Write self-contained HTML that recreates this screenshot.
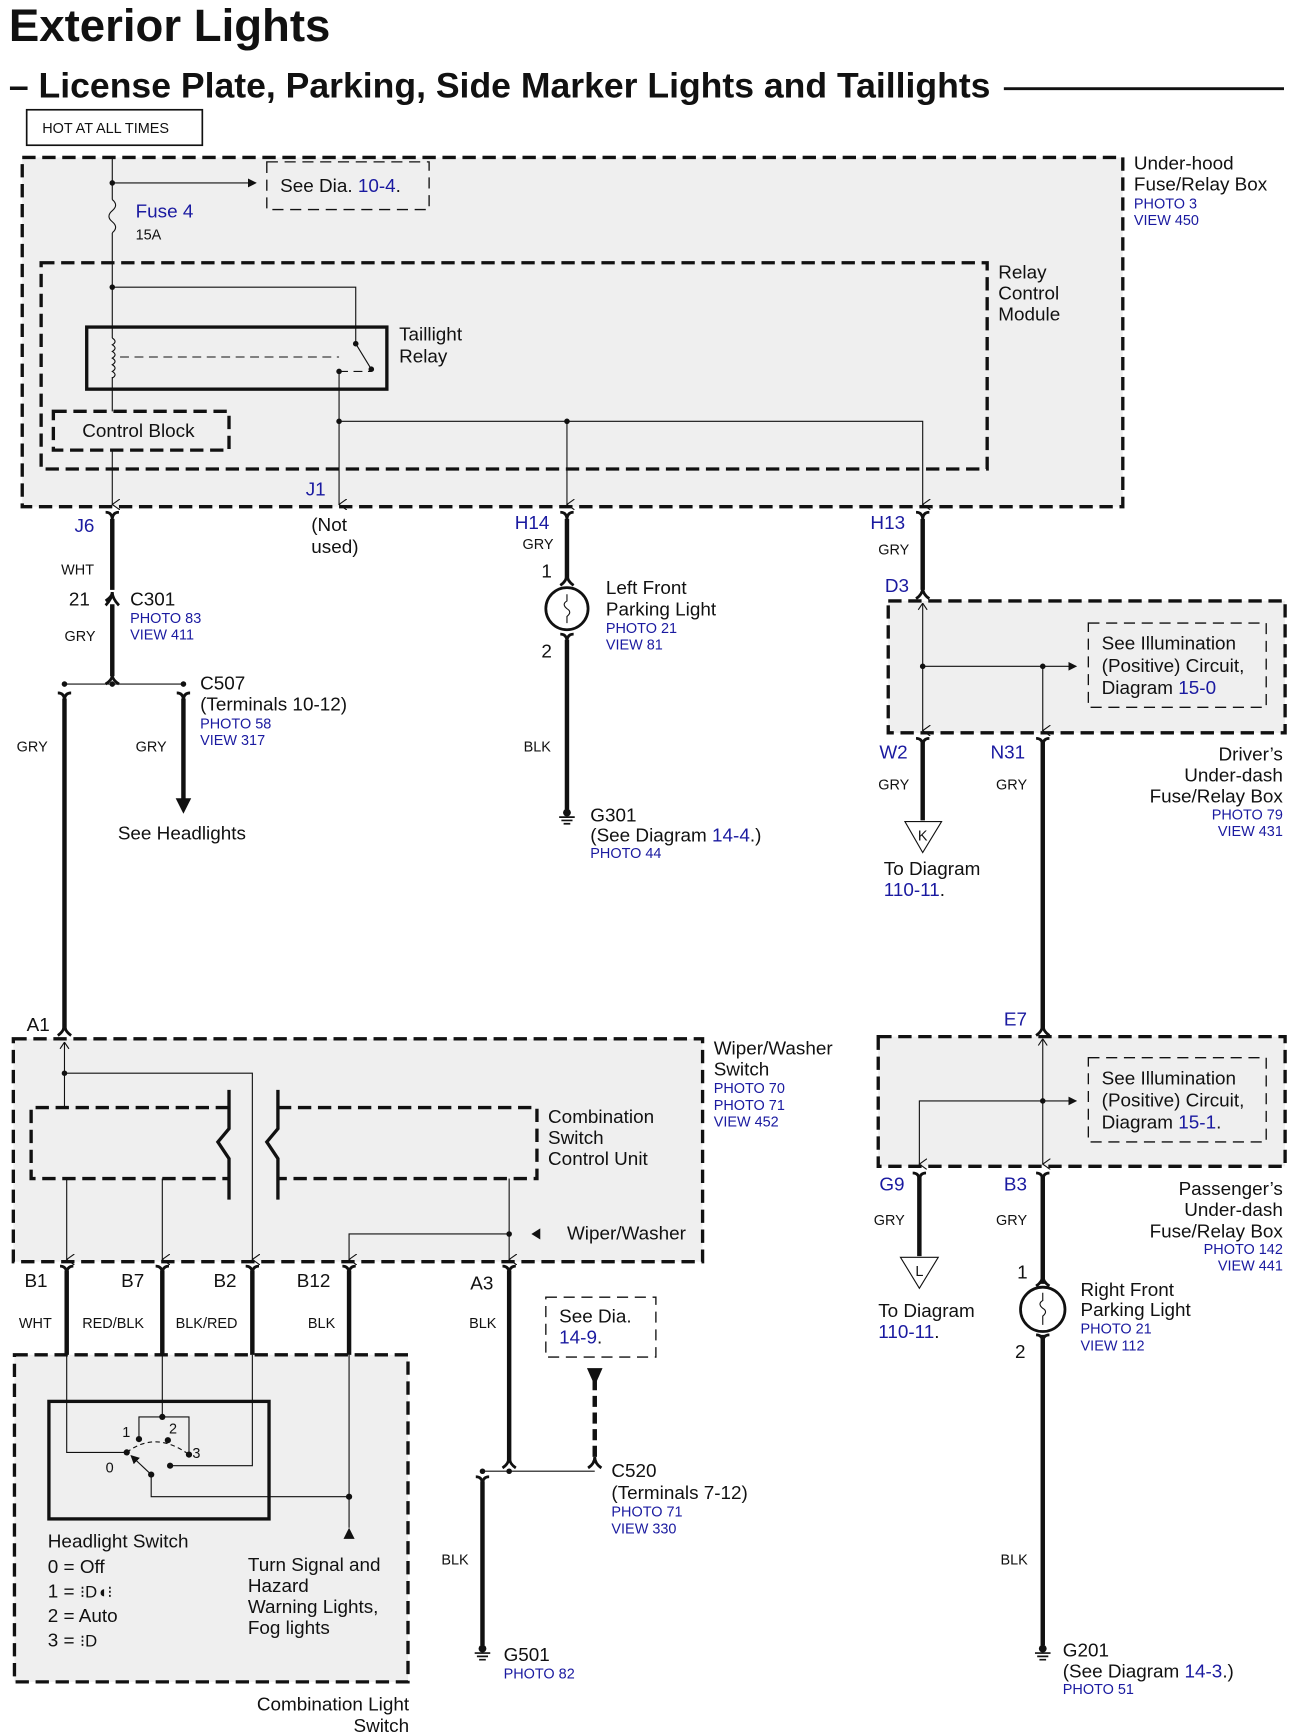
<!DOCTYPE html>
<html><head><meta charset="utf-8"><style>
html,body{margin:0;padding:0;background:#fff}
svg{display:block}
text{font-family:"Liberation Sans",Arial,sans-serif;fill:#111}
.b{fill:#1a1aa0}
.s{font-size:13px}
.m{font-size:17px}
.t{font-size:14px}
</style></head><body>
<svg width="1294" height="1734" viewBox="0 0 1164 1564" preserveAspectRatio="none" xmlns="http://www.w3.org/2000/svg">
<defs>
<marker id="ar" markerWidth="8" markerHeight="8" refX="7" refY="4" orient="auto" markerUnits="userSpaceOnUse"><path d="M0,0 L8,4 L0,8 z" fill="#111"/></marker>
<marker id="va" markerWidth="10" markerHeight="8" refX="5" refY="7" orient="auto" markerUnits="userSpaceOnUse"><path d="M0,0 L5,7 L10,0" fill="none" stroke="#111" stroke-width="1"/></marker>
</defs>
<text x="8" y="37" font-size="41" font-weight="bold">Exterior Lights</text>
<text x="8" y="88" font-size="32" font-weight="bold">– License Plate, Parking, Side Marker Lights and Taillights</text>
<line x1="903" y1="80" x2="1155" y2="80" stroke="#111" stroke-width="2.5"/>
<rect x="24" y="99" width="158" height="32" fill="#fff" stroke="#111" stroke-width="1.5"/>
<text x="38" y="120" class="s">HOT AT ALL TIMES</text>

<g fill="#efefef" stroke="#111" stroke-width="3" stroke-dasharray="12,6">
<rect x="20" y="142" width="990" height="315"/>
<rect x="790" y="935" width="366" height="117"/>
<rect x="799" y="542" width="357" height="119"/>
<rect x="12" y="937" width="620" height="201"/>
<rect x="13" y="1222" width="354" height="295"/>
</g>
<g fill="none" stroke="#111" stroke-width="3" stroke-dasharray="12,6">
<rect x="37" y="237" width="851" height="186"/>
<rect x="48" y="371" width="158" height="35"/>
<path d="M206,999 H28 V1063 H206 M250,999 H483 V1063 H250"/>
</g>
<g fill="none" stroke="#111" stroke-width="1.2" stroke-dasharray="10,6">
<rect x="240" y="146" width="146" height="43"/>
<rect x="979" y="562" width="160" height="76"/>
<rect x="979" y="954" width="160" height="76"/>
<rect x="491" y="1170" width="99" height="54"/>
</g>
<text x="1020" y="153" class="m">Under-hood</text>
<text x="1020" y="172" class="m">Fuse/Relay Box</text>
<text x="1020" y="188" class="s b">PHOTO 3</text>
<text x="1020" y="203" class="s b">VIEW 450</text>
<text x="252" y="173" class="m">See  Dia. <tspan class="b">10-4</tspan>.</text>
<text x="122" y="196" class="m b">Fuse 4</text>
<text x="122" y="216" class="s">15A</text>
<text x="898" y="251" class="m">Relay</text>
<text x="898" y="270" class="m">Control</text>
<text x="898" y="289" class="m">Module</text>
<text x="359" y="307" class="m">Taillight</text>
<text x="359" y="327" class="m">Relay</text>
<text x="74" y="394" class="m">Control Block</text>
<rect x="78" y="295" width="270" height="56" fill="none" stroke="#111" stroke-width="3"/>

<g fill="none" stroke="#111" stroke-width="1">
<path d="M101,142 V180 M101,210 V305 M101,340 V371"/>
<path d="M101,180 q6,5 0,10 q-6,5 0,10 q6,5 0,10"/>
<path d="M101,305 q5,3 0,6 q5,3 0,6 q5,3 0,6 q5,3 0,6 q5,3 0,6 q5,3 0,6"/>
<path d="M101,165 H230" marker-end="url(#ar)"/>
<path d="M101,259 H320 V310 L334,333"/>
<path d="M108,322 H305 M305,335 H334" stroke-dasharray="8,5"/>
<path d="M305,335 V455" marker-end="url(#va)"/>
<path d="M101,406 V455" marker-end="url(#va)"/>
<path d="M305,380 H830 V455" marker-end="url(#va)"/>
<path d="M510,380 V455" marker-end="url(#va)"/>
</g>
<g fill="#111">
<circle cx="101" cy="165" r="2.5"/><circle cx="101" cy="259" r="2.5"/><circle cx="320" cy="310" r="2.5"/><circle cx="305" cy="335" r="2.5"/><circle cx="334" cy="333" r="2.5"/><circle cx="305" cy="380" r="2.5"/><circle cx="510" cy="380" r="2.5"/>
</g>
<text x="275" y="447" class="m b">J1</text>
<text x="280" y="479" class="m">(Not</text>
<text x="280" y="499" class="m">used)</text>

<g fill="none" stroke="#111" stroke-width="2.5">
<path d="M95,462 Q101,462 101,469 Q101,462 107,462"/>
<path d="M504,462 Q510,462 510,469 Q510,462 516,462"/>
<path d="M824,462 Q830,462 830,469 Q830,462 836,462"/>
</g>
<g stroke="#111" stroke-width="4" fill="none">
<path d="M101,468 V532 M101,545 V610"/>
<path d="M510,468 V522 M510,577 V730"/>
<path d="M830,468 V532"/>
<path d="M58,630 V928"/>
<path d="M165,630 V722"/>
<path d="M830,668 V740"/>
<path d="M938,668 V928"/>
<path d="M827,1060 V1133"/>
<path d="M938,1060 V1158 M938,1204 V1484"/>
<path d="M60,1146 V1222 M146,1146 V1222 M227,1146 V1222 M314,1146 V1222"/>
<path d="M458,1146 V1318"/>
<path d="M434,1336 V1484"/>
<path d="M535,1244 V1318" stroke-dasharray="10,5"/>
</g>
<polygon points="528,1234 542,1234 535,1250" fill="#111"/>
<polygon points="158,720 172,720 165,734" fill="#111"/>
<g fill="none" stroke="#111" stroke-width="2.5">
<path d="M95,546 Q101,540 101,534 Q101,540 107,546"/>
<path d="M95,542 Q101,538 101,534"/>
<path d="M95,617 Q101,613 101,609 Q101,613 107,617"/>
<path d="M52,625 Q58,625 58,632 Q58,625 64,625"/>
<path d="M159,625 Q165,625 165,632 Q165,625 171,625"/>
<path d="M504,528 Q510,524 510,518 Q510,524 516,528"/>
<path d="M504,572 Q510,572 510,579 Q510,572 516,572"/>
<path d="M824,540 Q830,536 830,530 Q830,536 836,540"/>
<path d="M824,666 Q830,666 830,673 Q830,666 836,666"/>
<path d="M932,666 Q938,666 938,673 Q938,666 944,666"/>
<path d="M932,934 Q938,930 938,924 Q938,930 944,934"/>
<path d="M52,934 Q58,930 58,924 Q58,930 64,934"/>
<path d="M821,1058 Q827,1058 827,1065 Q827,1058 833,1058"/>
<path d="M932,1058 Q938,1058 938,1065 Q938,1058 944,1058"/>
<path d="M932,1160 Q938,1156 938,1150 Q938,1156 944,1160"/>
<path d="M932,1204 Q938,1204 938,1211 Q938,1204 944,1204"/>
<path d="M54,1142 Q60,1142 60,1149 Q60,1142 66,1142"/>
<path d="M140,1142 Q146,1142 146,1149 Q146,1142 152,1142"/>
<path d="M221,1142 Q227,1142 227,1149 Q227,1142 233,1142"/>
<path d="M308,1142 Q314,1142 314,1149 Q314,1142 320,1142"/>
<path d="M452,1142 Q458,1142 458,1149 Q458,1142 464,1142"/>
<path d="M452,1324 Q458,1320 458,1314 Q458,1320 464,1324"/>
<path d="M529,1324 Q535,1320 535,1314 Q535,1320 541,1324"/>
<path d="M428,1332 Q434,1332 434,1339 Q434,1332 440,1332"/>
</g>
<path d="M58,617 H165 M434,1327 H535" stroke="#111" stroke-width="1"/>
<g fill="#111"><circle cx="58" cy="617" r="2.5"/><circle cx="101" cy="617" r="2.5"/><circle cx="165" cy="617" r="2.5"/><circle cx="434" cy="1327" r="2.5"/><circle cx="458" cy="1327" r="2.5"/></g>

<text x="67" y="480" class="m b">J6</text>
<text x="55" y="518" class="s">WHT</text>
<text x="62" y="546" class="m">21</text>
<text x="117" y="546" class="m">C301</text>
<text x="117" y="562" class="s b">PHOTO 83</text>
<text x="117" y="577" class="s b">VIEW 411</text>
<text x="58" y="578" class="s">GRY</text>
<text x="180" y="622" class="m">C507</text>
<text x="180" y="641" class="m">(Terminals 10-12)</text>
<text x="180" y="657" class="s b">PHOTO 58</text>
<text x="180" y="672" class="s b">VIEW 317</text>
<text x="15" y="678" class="s">GRY</text>
<text x="122" y="678" class="s">GRY</text>
<text x="106" y="757" class="m">See Headlights</text>

<text x="463" y="477" class="m b">H14</text>
<text x="470" y="495" class="s">GRY</text>
<text x="487" y="521" class="m">1</text>
<circle cx="510" cy="549" r="19" fill="#fff" stroke="#111" stroke-width="2.5"/>
<path d="M510,536 v6 q-5,3 0,7 q5,3 0,7 v6" fill="none" stroke="#111" stroke-width="1"/>
<text x="487" y="593" class="m">2</text>
<text x="545" y="536" class="m">Left Front</text>
<text x="545" y="555" class="m">Parking Light</text>
<text x="545" y="571" class="s b">PHOTO 21</text>
<text x="545" y="586" class="s b">VIEW 81</text>
<text x="471" y="678" class="s">BLK</text>
<g stroke="#111" stroke-width="1.5"><circle cx="510" cy="733" r="3.5" fill="#111" stroke="none"/><path d="M503,737 h14 M505,740 h10 M507,743 h6"/></g>
<text x="531" y="741" class="m">G301</text>
<text x="531" y="759" class="m">(See Diagram <tspan class="b">14-4</tspan>.)</text>
<text x="531" y="774" class="s b">PHOTO 44</text>

<text x="783" y="477" class="m b">H13</text>
<text x="790" y="500" class="s">GRY</text>
<text x="796" y="534" class="m b">D3</text>
<g fill="none" stroke="#111" stroke-width="1">
<path d="M830,544 V659" marker-end="url(#va)"/>
<path d="M830,544 l-4,6 M830,544 l4,6"/>
<path d="M830,601 H968" marker-end="url(#ar)"/>
<path d="M938,601 V659" marker-end="url(#va)"/>
<path d="M938,937 V1050" marker-end="url(#va)"/>
<path d="M938,937 l-4,6 M938,937 l4,6"/>
<path d="M938,993 H968" marker-end="url(#ar)"/>
<path d="M938,993 H827 V1050" marker-end="url(#va)"/>
</g>
<g fill="#111"><circle cx="830" cy="601" r="2.5"/><circle cx="938" cy="601" r="2.5"/><circle cx="938" cy="993" r="2.5"/></g>
<text x="991" y="586" class="m">See Illumination</text>
<text x="991" y="606" class="m">(Positive) Circuit,</text>
<text x="991" y="626" class="m">Diagram <tspan class="b">15-0</tspan></text>
<text x="791" y="684" class="m b">W2</text>
<text x="891" y="684" class="m b">N31</text>
<text x="790" y="712" class="s">GRY</text>
<text x="896" y="712" class="s">GRY</text>
<g text-anchor="end">
<text x="1154" y="686" class="m">Driver’s</text>
<text x="1154" y="705" class="m">Under-dash</text>
<text x="1154" y="724" class="m">Fuse/Relay Box</text>
<text x="1154" y="739" class="s b">PHOTO 79</text>
<text x="1154" y="754" class="s b">VIEW 431</text>
<text x="1154" y="1078" class="m">Passenger’s</text>
<text x="1154" y="1097" class="m">Under-dash</text>
<text x="1154" y="1116" class="m">Fuse/Relay Box</text>
<text x="1154" y="1131" class="s b">PHOTO 142</text>
<text x="1154" y="1146" class="s b">VIEW 441</text>
<text x="368" y="1543" class="m">Combination Light</text>
<text x="368" y="1562" class="m">Switch</text>
</g>
<polygon points="814,741 847,741 830,769" fill="#fff" stroke="#111" stroke-width="1"/>
<text x="830" y="758" class="s" text-anchor="middle">K</text>
<text x="795" y="789" class="m">To Diagram</text>
<text x="795" y="808" class="m b">110-11<tspan fill="#111">.</tspan></text>

<text x="903" y="925" class="m b">E7</text>
<text x="991" y="978" class="m">See Illumination</text>
<text x="991" y="998" class="m">(Positive) Circuit,</text>
<text x="991" y="1018" class="m">Diagram <tspan class="b">15-1</tspan>.</text>
<text x="791" y="1074" class="m b">G9</text>
<text x="903" y="1074" class="m b">B3</text>
<text x="786" y="1105" class="s">GRY</text>
<text x="896" y="1105" class="s">GRY</text>
<polygon points="810,1134 844,1134 827,1162" fill="#fff" stroke="#111" stroke-width="1"/>
<text x="827" y="1151" class="s" text-anchor="middle">L</text>
<text x="790" y="1188" class="m">To Diagram</text>
<text x="790" y="1207" class="m b">110-11<tspan fill="#111">.</tspan></text>
<text x="915" y="1153" class="m">1</text>
<circle cx="938" cy="1181" r="20" fill="#fff" stroke="#111" stroke-width="2.5"/>
<path d="M938,1166 v7 q-5,3 0,7 q5,3 0,7 v8" fill="none" stroke="#111" stroke-width="1"/>
<text x="913" y="1225" class="m">2</text>
<text x="972" y="1169" class="m">Right Front</text>
<text x="972" y="1187" class="m">Parking Light</text>
<text x="972" y="1203" class="s b">PHOTO 21</text>
<text x="972" y="1218" class="s b">VIEW 112</text>
<text x="900" y="1411" class="s">BLK</text>
<g stroke="#111" stroke-width="1.5"><circle cx="938" cy="1487" r="3.5" fill="#111" stroke="none"/><path d="M931,1491 h14 M933,1494 h10 M935,1497 h6"/></g>
<text x="956" y="1494" class="m">G201</text>
<text x="956" y="1513" class="m">(See Diagram <tspan class="b">14-3</tspan>.)</text>
<text x="956" y="1528" class="s b">PHOTO 51</text>

<text x="642" y="951" class="m">Wiper/Washer</text>
<text x="642" y="970" class="m">Switch</text>
<text x="642" y="986" class="s b">PHOTO 70</text>
<text x="642" y="1001" class="s b">PHOTO 71</text>
<text x="642" y="1016" class="s b">VIEW 452</text>
<text x="493" y="1013" class="m">Combination</text>
<text x="493" y="1032" class="m">Switch</text>
<text x="493" y="1051" class="m">Control Unit</text>
<g fill="none" stroke="#111" stroke-width="3">
<path d="M206,983 V1018 L196,1030 L206,1045 V1082"/>
<path d="M250,983 V1018 L240,1030 L250,1045 V1082"/>
</g>
<g fill="none" stroke="#111" stroke-width="1">
<path d="M58,940 V999"/>
<path d="M58,940 l-4,6 M58,940 l4,6"/>
<path d="M58,968 H227 V1136" marker-end="url(#va)"/>
<path d="M60,1063 V1136" marker-end="url(#va)"/>
<path d="M146,1063 V1136" marker-end="url(#va)"/>
<path d="M458,1063 V1136" marker-end="url(#va)"/>
<path d="M458,1113 H314 V1136" marker-end="url(#va)"/>
</g>
<polygon points="486,1108 486,1118 478,1113" fill="#111"/>
<g fill="#111"><circle cx="58" cy="968" r="2.5"/><circle cx="458" cy="1113" r="2.5"/></g>
<text x="510" y="1118" class="m">Wiper/Washer</text>
<text x="24" y="930" class="m">A1</text>
<text x="22" y="1161" class="m">B1</text>
<text x="109" y="1161" class="m">B7</text>
<text x="192" y="1161" class="m">B2</text>
<text x="267" y="1161" class="m">B12</text>
<text x="423" y="1163" class="m">A3</text>
<text x="17" y="1198" class="s">WHT</text>
<text x="74" y="1198" class="s">RED/BLK</text>
<text x="158" y="1198" class="s">BLK/RED</text>
<text x="277" y="1198" class="s">BLK</text>
<text x="422" y="1198" class="s">BLK</text>

<rect x="44" y="1264" width="198" height="106" fill="none" stroke="#111" stroke-width="3"/>
<g fill="none" stroke="#111" stroke-width="1">
<path d="M60,1222 V1310 H114"/>
<path d="M146,1222 V1278 M125,1298 V1278 H170 V1312"/>
<path d="M227,1222 V1322 H153"/>
<path d="M314,1222 V1378"/>
<path d="M136,1330 V1350 H314"/>
<path d="M136,1330 L118,1313" marker-end="url(#ar)"/>
<path d="M114,1310 Q140,1290 170,1312" stroke-dasharray="4,3"/>
</g>
<polygon points="309,1388 319,1388 314,1378" fill="#111"/>
<g fill="#111"><circle cx="146" cy="1278" r="2.8"/><circle cx="114" cy="1310" r="2.8"/><circle cx="125" cy="1298" r="2.8"/><circle cx="151" cy="1299" r="2.8"/><circle cx="170" cy="1312" r="2.8"/><circle cx="153" cy="1322" r="2.8"/><circle cx="136" cy="1330" r="2.8"/><circle cx="314" cy="1350" r="2.8"/></g>
<text x="110" y="1296" class="s">1</text>
<text x="152" y="1293" class="s">2</text>
<text x="173" y="1315" class="s">3</text>
<text x="95" y="1328" class="s">0</text>
<text x="43" y="1396" class="m">Headlight Switch</text>
<text x="43" y="1419" class="m">0 = Off</text>
<text x="43" y="1441" class="m">1 = <tspan font-size="15">⁝D◖⁝</tspan></text>
<text x="43" y="1463" class="m">2 = Auto</text>
<text x="43" y="1485" class="m">3 = <tspan font-size="15">⁝D</tspan></text>
<text x="223" y="1417" class="m">Turn Signal and</text>
<text x="223" y="1436" class="m">Hazard</text>
<text x="223" y="1455" class="m">Warning Lights,</text>
<text x="223" y="1474" class="m">Fog lights</text>

<text x="503" y="1193" class="m">See Dia.</text>
<text x="503" y="1212" class="m b">14-9<tspan fill="#111">.</tspan></text>
<text x="550" y="1332" class="m">C520</text>
<text x="550" y="1352" class="m">(Terminals 7-12)</text>
<text x="550" y="1368" class="s b">PHOTO 71</text>
<text x="550" y="1383" class="s b">VIEW 330</text>
<text x="397" y="1411" class="s">BLK</text>
<g stroke="#111" stroke-width="1.5"><circle cx="434" cy="1487" r="3.5" fill="#111" stroke="none"/><path d="M427,1491 h14 M429,1494 h10 M431,1497 h6"/></g>
<text x="453" y="1498" class="m">G501</text>
<text x="453" y="1514" class="s b">PHOTO 82</text>
</svg>
</body></html>
